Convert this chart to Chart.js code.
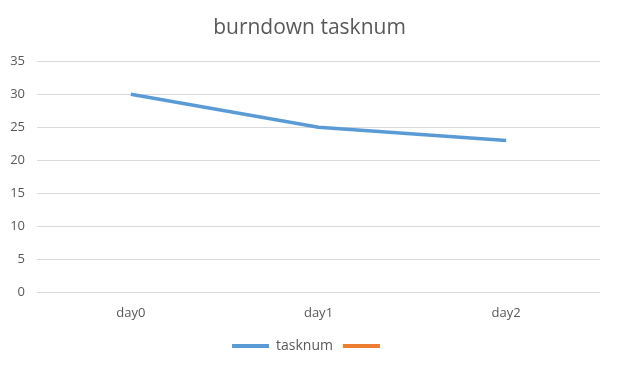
<!DOCTYPE html>
<html>
<head>
<meta charset="utf-8">
<script src="https://cdn.jsdelivr.net/npm/chart.js@4/dist/chart.umd.min.js"></script>
<style>
  body { margin: 0; background: #fff; }
</style>
</head>
<body>
<canvas id="burndownChart" width="619" height="370"></canvas>
<script>
const days = ['day0', 'day1', 'day2'];
const tasknum = [30, 25, 23];
const other = [];

const textGrey = '#595959';
const font = "'Open Sans', 'Noto Sans', sans-serif";

const burndown = document.getElementById('burndownChart');
new Chart(burndown, {
  type: 'line',
  data: {
    labels: days,
    datasets: [{
      label: 'tasknum',
      data: tasknum,
      borderColor: '#5B9BD5',
      backgroundColor: '#5B9BD5',
      borderWidth: 3.5,
      pointRadius: 0,
      tension: 0
    }, {
      label: '',
      data: other,
      borderColor: '#ED7D31',
      backgroundColor: '#ED7D31',
      borderWidth: 3.5,
      pointRadius: 0
    }]
  },
  options: {
    responsive: false,
    animation: false,
    layout: { padding: { left: 0, right: 0, top: 6, bottom: 7 } },
    plugins: {
      title: {
        display: true,
        text: 'burndown tasknum',
        color: textGrey,
        font: { family: font, size: 21, weight: 'normal' },
        padding: { top: 9, bottom: 21 }
      },
      legend: {
        position: 'bottom',
        labels: {
          color: textGrey,
          font: { family: font, size: 14 },
          boxWidth: 37,
          boxHeight: 4,
          padding: 10,
          generateLabels: function (chart) {
            return chart.data.datasets.map(function (ds, i) {
              return {
                text: ds.label,
                fillStyle: ds.borderColor,
                strokeStyle: ds.borderColor,
                lineWidth: 0,
                fontColor: textGrey,
                datasetIndex: i
              };
            });
          }
        }
      },
      tooltip: { enabled: false }
    },
    scales: {
      x: {
        offset: true,
        afterFit: function (scale) { scale.height += 3; },
        grid: { display: false },
        border: { display: false },
        ticks: { color: textGrey, font: { family: font, size: 13 }, padding: 5 }
      },
      y: {
        min: 0,
        max: 35,
        afterFit: function (scale) { scale.width = 37; },
        ticks: { stepSize: 5, color: textGrey, font: { family: font, size: 13 }, padding: 12 },
        grid: { color: '#D9D9D9', drawTicks: false },
        border: { display: false }
      },
      // empty axis on the right, only there to keep a margin like the original
      yRight: {
        position: 'right',
        display: true,
        afterFit: function (scale) { scale.width = 19; },
        ticks: { display: false },
        grid: { display: false },
        border: { display: false }
      }
    }
  }
});
</script>
</body>
</html>
